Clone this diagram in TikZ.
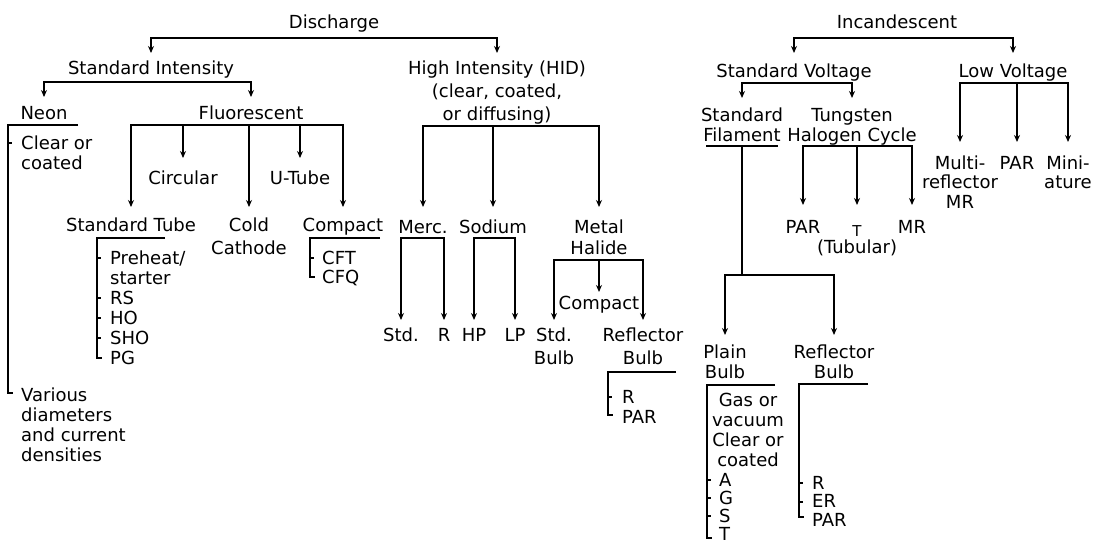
\documentclass[tikz,border=0pt]{standalone}
\usepackage{fontspec}
\setmainfont{DejaVu Sans}
\usetikzlibrary{arrows.meta}
\begin{document}
\begin{tikzpicture}[x=1pt,y=-1pt,
  lbl/.style={inner sep=0pt, anchor=base, align=center, font=\fontsize{18}{20}\selectfont},
  wide/.style={font=\fontsize{18}{23}\selectfont},
  lft/.style={inner sep=0pt, anchor=base west, align=left, font=\fontsize{18}{20}\selectfont},
  ln/.style={line width=1.6pt, line join=miter},
  arr/.style={ln, -{Stealth[length=7pt,width=6pt]}},
  tk/.style={line width=1.3pt}]
\useasboundingbox (0,0) rectangle (1106,544);
\fill[white] (0,0) rectangle (1106,544);

% ---------- Discharge ----------
% (multi-line nodes are placed by the baseline of their last line)
\node[lbl] (dis) at (334,28) {Discharge};
\node[lbl] (si) at (151,74) {Standard Intensity};
\node[lbl,wide] (hid) at (497,120) {High Intensity (HID)\\(clear, coated,\\or diffusing)};
\node[lbl] (neon) at (44,119) {Neon};
\node[lbl] (fl) at (251,119) {Fluorescent};
\node[lft] (clr) at (21,169) {Clear or\\coated};
\node[lft] (var) at (21,461) {Various\\diameters\\and current\\densities};
\node[lbl] (circ) at (183,184) {Circular};
\node[lbl] (ut) at (300,184) {U-Tube};
\node[lbl] (stube) at (131,231) {Standard Tube};
\node[lbl,wide] (cold) at (249,254) {Cold\\Cathode};
\node[lbl] (cmp) at (343,231) {Compact};
\node[lft] (stl) at (110,364) {Preheat/\\starter\\RS\\HO\\SHO\\PG};
\node[lft,font=\fontsize{18}{19}\selectfont] (cfl) at (322,283) {CFT\\CFQ};
\node[lbl] (merc) at (423,233) {Merc.};
\node[lbl] (sod) at (493,233) {Sodium};
\node[lbl,font=\fontsize{18}{21}\selectfont] (mh) at (599,254) {Metal\\Halide};
\node[lbl] (mhc) at (599,309) {Compact};
\node[lbl] (std1) at (401,341) {Std.};
\node[lbl] (r1) at (444,341) {R};
\node[lbl] (hp) at (474,341) {HP};
\node[lbl] (lp) at (515,341) {LP};
\node[lbl,wide] (sb) at (554,364) {Std.\\Bulb};
\node[lbl,wide] (rb) at (643,364) {Reflector\\Bulb};
\node[lft] (rbl) at (622,423) {R\\PAR};

\draw[arr] (dis |- 0,38) -| (si |- 0,53);
\draw[arr] (dis |- 0,38) -| (hid |- 0,53);
\draw[arr] (si |- 0,82) -| (neon |- 0,97);
\draw[arr] (si |- 0,82) -| (fl |- 0,97);
% Neon bracket
\draw[ln] (78,125) -- (8,125) -- (8,393) -- (13,393);
\draw[tk] (8,143) -- (12,143);
% Fluorescent
\draw[arr] (fl |- 0,125) -| (stube |- 0,207);
\draw[arr] (fl |- 0,125) -| (cmp |- 0,207);
\draw[arr] (circ |- 0,125) -- (circ |- 0,158);
\draw[arr] (cold |- 0,125) -- (cold |- 0,207);
\draw[arr] (ut |- 0,125) -- (ut |- 0,158);
% Standard Tube bracket
\draw[ln] (165,238) -- (97,238) -- (97,358) -- (102,358);
\foreach \yy in {258,298,318,338} \draw[tk] (97,\yy) -- (101,\yy);
% Compact bracket
\draw[ln] (380,238) -- (310,238) -- (310,277) -- (315,277);
\draw[tk] (310,258) -- (314,258);
% HID
\draw[arr] (hid |- 0,126) -| (merc |- 0,207);
\draw[arr] (hid |- 0,126) -| (mh |- 0,207);
\draw[arr] (sod |- 0,126) -- (sod |- 0,207);
\draw[arr] (merc |- 0,238) -| (std1 |- 0,320);
\draw[arr] (merc |- 0,238) -| (r1 |- 0,320);
\draw[arr] (sod |- 0,238) -| (hp |- 0,320);
\draw[arr] (sod |- 0,238) -| (lp |- 0,320);
\draw[arr] (mh |- 0,260) -| (sb |- 0,320);
\draw[arr] (mh |- 0,260) -| (rb |- 0,320);
\draw[arr] (mhc |- 0,260) -- (mhc |- 0,292);
\draw[ln] (676,372) -- (608,372) -- (608,415) -- (613,415);
\draw[tk] (608,397) -- (612,397);

% ---------- Incandescent ----------
\node[lbl] (inc) at (897,28) {Incandescent};
\node[lbl] (sv) at (794,77) {Standard Voltage};
\node[lbl] (lv) at (1013,77) {Low Voltage};
\node[lbl] (sf) at (742,141) {Standard\\Filament};
\node[lbl] (th) at (852,141) {Tungsten\\Halogen Cycle};
\node[lbl,font=\fontsize{18}{19.5}\selectfont] (multi) at (960,208) {Multi-\\reflector\\MR};
\node[lbl] (lpar) at (1017,169) {PAR};
\node[lbl,font=\fontsize{18}{19.5}\selectfont] (mini) at (1068,188.5) {Mini-\\ature};
\node[lbl] (tpar) at (803,233) {PAR};
\node[lbl,font=\fontsize{15}{17}\selectfont] (tt) at (857,236) {T};
\node[lbl] (tub) at (857,253) {(Tubular)};
\node[lbl] (tmr) at (912,233) {MR};
\node[lbl] (plain) at (725,378) {Plain\\Bulb};
\node[lbl] (refb) at (834,378) {Reflector\\Bulb};
\node[lbl] (gas) at (748,466) {Gas or\\vacuum\\Clear or\\coated};
\node[lft,font=\fontsize{18}{18}\selectfont] (agst) at (719,540) {A\\G\\S\\T};
\node[lft,font=\fontsize{18}{18.5}\selectfont] (rer) at (812,526) {R\\ER\\PAR};

\draw[arr] (inc |- 0,38) -| (sv |- 0,53);
\draw[arr] (inc |- 0,38) -| (lv |- 0,53);
\draw[arr] (sv |- 0,83) -| (sf |- 0,98);
\draw[arr] (sv |- 0,83) -| (th |- 0,98);
\draw[arr] (lv |- 0,83) -| (multi |- 0,142);
\draw[arr] (lv |- 0,83) -| (mini |- 0,142);
\draw[arr] (lpar |- 0,83) -- (lpar |- 0,142);
% Standard filament
\draw[ln] (706,146) -- (778,146);
\draw[ln] (sf |- 0,146) -- (sf |- 0,275);
\draw[arr] (sf |- 0,275) -| (plain |- 0,335);
\draw[arr] (sf |- 0,275) -| (refb |- 0,335);
% Tungsten halogen
\draw[arr] (tt |- 0,146) -| (tpar |- 0,205);
\draw[arr] (tt |- 0,146) -| (tmr |- 0,205);
\draw[arr] (tt |- 0,146) -- (tt |- 0,205);
% Plain bulb bracket
\draw[ln] (775,385) -- (707,385) -- (707,538) -- (712,538);
\foreach \yy in {480,498,516} \draw[tk] (707,\yy) -- (711,\yy);
% Reflector bulb bracket
\draw[ln] (868,384) -- (799,384) -- (799,517) -- (804,517);
\foreach \yy in {483,502} \draw[tk] (799,\yy) -- (803,\yy);
\end{tikzpicture}
\end{document}
